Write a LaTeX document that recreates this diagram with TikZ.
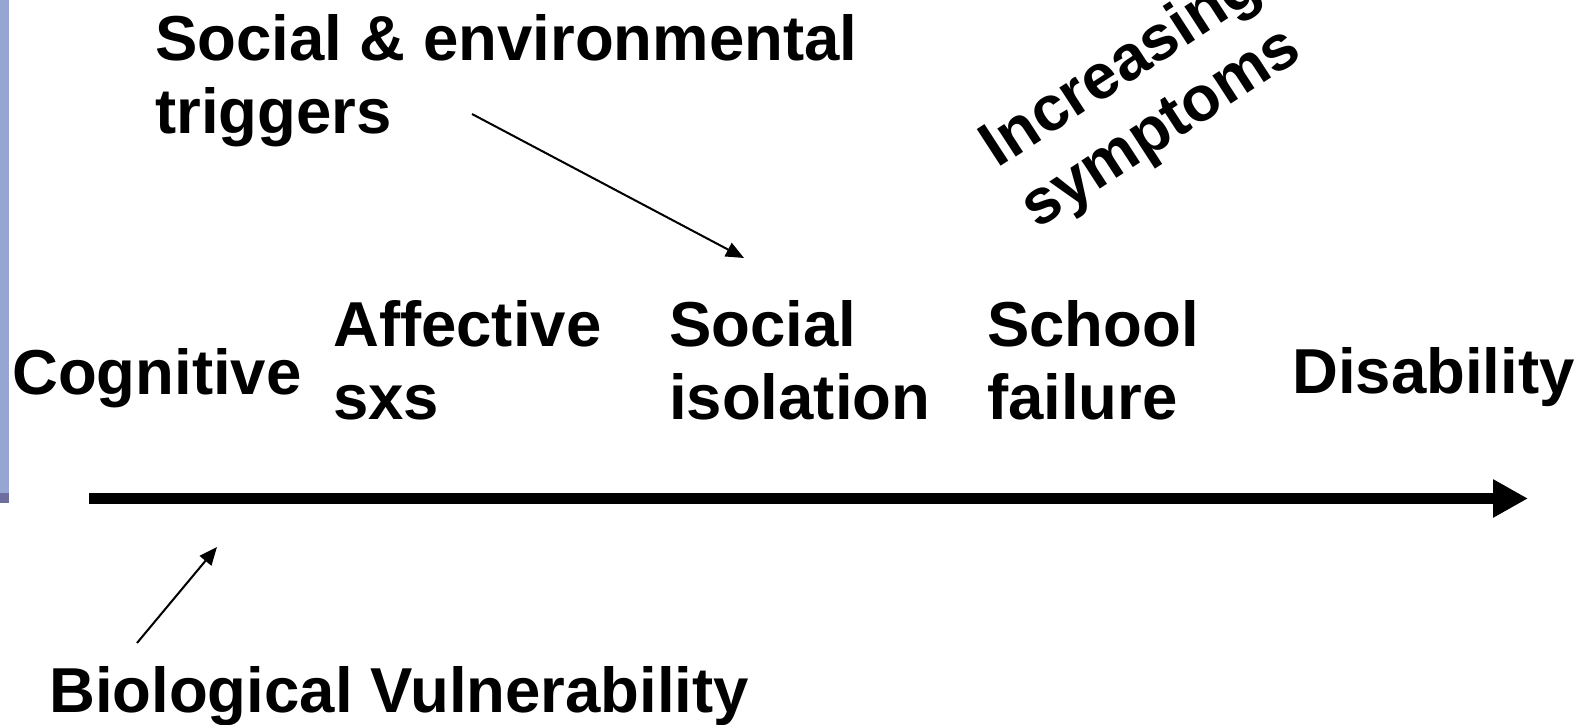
\documentclass[tikz,border=0pt]{standalone}
\usepackage{fontspec}
\setmainfont{Liberation Sans}
\usepackage{tikz}
\usetikzlibrary{arrows.meta}
\definecolor{barra}{HTML}{97A5D3}
\definecolor{barraosc}{HTML}{6E6E9E}
\tikzset{
  every picture/.style={x=1pt, y=1pt},
  etiq/.style={inner sep=0pt, anchor=base west, align=left,
               font=\fontsize{63.5}{73}\selectfont\bfseries},
  eje/.style={-{Triangle[length=35pt, width=36pt]}, line width=11pt},
  flecha/.style={-{Triangle[length=18pt, width=15pt]}, line width=2pt},
}
\begin{document}
\begin{tikzpicture}
  \useasboundingbox (0,0) rectangle (1583,725);
  \clip (0,0) rectangle (1583,725);
  % barra lateral
  \fill[barra] (0,232) rectangle (9,725);
  \fill[barraosc] (0,222) rectangle (9,232);
  % etapas sobre el eje (base = ultima linea)
  \node[etiq] (cog) at (12,330) {Cognitive};
  \node[etiq] (afe) at (333,305) {Affective\\sxs};
  \node[etiq] (aisl) at (669,305) {Social\\isolation};
  \node[etiq] (esc) at (987,305) {School\\failure};
  \node[etiq] (dis) at (1292,331) {Disability};
  \node[etiq] (trig) at (155,591) {Social \& environmental\\triggers};
  \node[etiq] (bio) at (49,12) {Biological Vulnerability};
  \node[etiq, anchor=center, align=center, rotate=33] (sint) at (1142,626) {Increasing\\symptoms};
  % eje temporal
  \coordinate (tl0) at (89,226.5);
  \coordinate (tl1) at (1528,226.5);
  \draw[eje] (tl0) -- (tl1);
  % flechas finas
  \coordinate (trigA) at (472,611);
  \coordinate (trigB) at (744,467);
  \draw[flecha] (trigA) -- (trigB);
  \coordinate (bioA) at (137,82);
  \coordinate (bioB) at (217,178);
  \draw[flecha] (bioA) -- (bioB);
\end{tikzpicture}
\end{document}
